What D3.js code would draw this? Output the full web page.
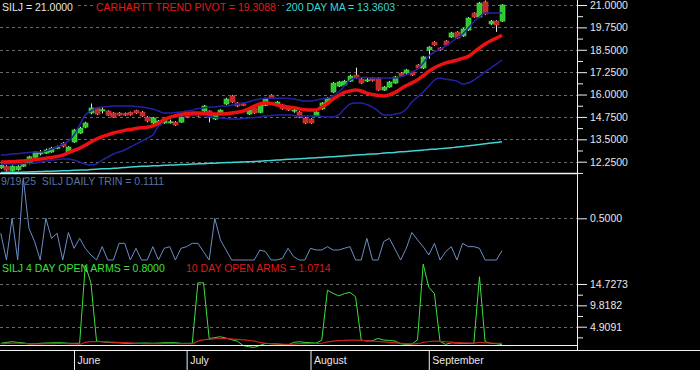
<!DOCTYPE html>
<html><head><meta charset="utf-8">
<script src="https://cdn.jsdelivr.net/npm/d3@7"></script>
<style>
html,body{margin:0;padding:0;background:#000;}
svg{display:block;}
text{font-family:"Liberation Sans",Arial,sans-serif;font-size:10.5px;white-space:pre;}
</style></head><body>
<svg id="chart" width="700" height="370"></svg>
<script>
// ---------------- DATA ----------------
const dates = [
"2025-05-13","2025-05-14","2025-05-15","2025-05-16","2025-05-19","2025-05-20","2025-05-21","2025-05-22","2025-05-23","2025-05-27","2025-05-28","2025-05-29","2025-05-30",
"2025-06-02","2025-06-03","2025-06-04","2025-06-05","2025-06-06","2025-06-09","2025-06-10","2025-06-11","2025-06-12","2025-06-13","2025-06-16","2025-06-17","2025-06-18","2025-06-20","2025-06-23","2025-06-24","2025-06-25","2025-06-26","2025-06-27","2025-06-30",
"2025-07-01","2025-07-02","2025-07-03","2025-07-07","2025-07-08","2025-07-09","2025-07-10","2025-07-11","2025-07-14","2025-07-15","2025-07-16","2025-07-17","2025-07-18","2025-07-21","2025-07-22","2025-07-23","2025-07-24","2025-07-25","2025-07-28","2025-07-29","2025-07-30","2025-07-31",
"2025-08-01","2025-08-04","2025-08-05","2025-08-06","2025-08-07","2025-08-08","2025-08-11","2025-08-12","2025-08-13","2025-08-14","2025-08-15","2025-08-18","2025-08-19","2025-08-20","2025-08-21","2025-08-22","2025-08-25","2025-08-26","2025-08-27","2025-08-28","2025-08-29",
"2025-09-02","2025-09-03","2025-09-04","2025-09-05","2025-09-08","2025-09-09","2025-09-10","2025-09-11","2025-09-12","2025-09-15","2025-09-16","2025-09-17","2025-09-18","2025-09-19"];

const openP = [11.90,11.97,11.75,11.80,12.00,12.15,12.50,12.72,12.73,12.79,
13.00,13.29,12.79,13.35,13.85,14.18,14.97,15.25,15.12,15.08,
14.97,14.97,14.95,15.00,15.10,15.02,14.74,14.41,14.30,14.41,
14.45,14.46,14.46,14.97,14.90,14.95,15.08,15.08,14.63,14.91,
15.47,15.92,15.53,15.48,14.91,15.25,15.00,15.40,15.97,15.42,
15.42,15.30,15.12,15.02,14.69,14.63,14.80,15.20,15.53,16.14,
16.47,16.53,16.75,17.09,16.86,16.80,16.92,16.92,16.25,16.42,
16.64,17.20,17.20,17.26,17.65,17.48,18.49,18.93,18.60,18.99,
19.21,19.49,19.27,19.60,20.55,20.33,21.17,19.94,20.10,20.10];
const closeP = [12.05,11.78,12.00,11.98,12.10,12.52,12.79,12.75,12.90,13.01,
13.07,13.12,13.07,14.02,14.13,14.41,15.25,14.91,15.15,14.85,
14.74,14.85,14.85,14.87,14.97,14.80,14.52,14.69,14.52,14.63,
14.48,14.30,14.74,14.74,14.85,14.80,15.36,14.74,14.85,15.13,
15.75,15.58,15.36,15.40,15.13,14.97,15.42,15.75,15.80,15.58,
15.20,15.13,15.14,14.74,14.41,14.41,15.02,15.53,15.80,16.64,
16.70,16.75,17.03,16.92,16.64,16.82,16.78,16.25,16.42,16.70,
16.98,17.03,17.37,17.09,17.48,18.10,18.65,18.77,18.50,18.77,
19.44,19.15,19.66,20.27,20.33,21.11,20.50,20.10,19.88,21.00];
const highP = [12.10,12.05,12.05,12.05,12.18,12.58,12.85,12.90,12.98,13.08,
13.15,13.35,13.12,14.08,14.20,14.48,15.50,15.30,15.30,15.12,
15.02,15.02,15.00,15.05,15.15,15.08,14.80,14.75,14.58,14.68,
14.60,14.52,14.80,15.02,14.95,15.00,15.42,15.12,14.90,15.18,
15.82,15.98,15.58,15.55,15.18,15.30,15.48,15.82,16.02,15.64,
15.48,15.35,15.30,15.08,14.75,14.68,15.08,15.58,15.86,16.70,
16.76,16.82,17.10,17.50,16.92,16.98,16.98,16.98,16.48,16.76,
17.04,17.26,17.43,17.32,17.70,18.16,18.70,18.98,18.65,19.04,
19.50,19.54,19.72,20.33,20.60,21.17,21.25,20.16,20.15,21.05];
const lowP = [11.85,11.70,11.70,11.75,11.95,12.10,12.45,12.60,12.68,12.75,
12.95,13.05,12.75,13.30,13.80,14.12,14.90,14.85,14.95,14.80,
14.70,14.80,14.80,14.82,14.92,14.75,14.45,14.30,14.25,14.36,
14.38,14.25,14.42,14.70,14.80,14.75,15.02,14.45,14.58,14.86,
15.42,15.52,15.30,15.35,14.86,14.92,14.95,15.35,15.75,15.36,
15.15,15.08,14.98,14.68,14.35,14.36,14.75,15.15,15.48,16.08,
16.42,16.48,16.70,16.88,16.58,16.70,16.72,16.20,16.20,16.38,
16.60,16.98,17.15,17.04,17.42,17.42,18.00,18.72,18.45,18.72,
19.16,19.10,19.22,19.55,20.28,20.28,20.45,19.89,19.50,20.05];

const pivot = [12.23,12.24,12.25,12.27,12.29,12.32,12.36,12.40,12.44,12.49,
12.54,12.62,12.75,12.88,13.00,13.17,13.35,13.52,13.65,13.75,
13.85,13.93,14.00,14.05,14.10,14.14,14.17,14.25,14.40,14.60,
14.73,14.82,14.89,14.94,14.97,14.97,14.96,14.94,14.92,14.91,
14.93,14.97,15.01,15.07,15.20,15.35,15.47,15.53,15.50,15.42,
15.35,15.31,15.27,15.20,15.15,15.13,15.14,15.30,15.50,15.75,
15.95,16.12,16.20,16.25,16.20,16.08,16.00,15.95,15.92,15.98,
16.12,16.31,16.50,16.65,16.82,17.05,17.30,17.50,17.65,17.77,
17.84,17.92,18.02,18.13,18.35,18.60,18.82,19.00,19.15,19.3088];
const upperBand = [12.62,12.64,12.68,12.70,12.73,12.76,12.79,12.79,12.84,12.96,
13.07,13.23,13.40,13.74,14.30,14.86,15.08,15.25,15.30,15.33,
15.36,15.36,15.36,15.36,15.33,15.30,15.25,15.19,15.08,14.97,
14.97,15.00,15.02,15.08,15.13,15.22,15.25,15.30,15.30,15.36,
15.36,15.41,15.47,15.53,15.58,15.69,15.75,15.80,15.80,15.80,
15.80,15.78,15.75,15.69,15.64,15.64,15.69,15.75,15.80,15.92,
16.14,16.47,16.81,16.92,16.95,16.95,16.92,16.92,16.92,16.92,
16.92,16.98,17.09,17.26,17.42,17.76,18.15,18.37,18.54,18.71,
18.93,19.16,19.38,19.72,20.05,20.33,20.55,20.55,20.55,20.55];
const lowerBand = [12.12,12.12,12.12,12.12,12.15,12.17,12.17,12.23,12.28,12.34,
12.37,12.40,12.40,12.34,12.23,12.12,12.06,12.12,12.34,12.51,
12.68,12.79,12.90,13.07,13.23,13.40,13.57,13.74,14.24,14.52,
14.69,14.74,14.80,14.86,14.86,14.86,14.83,14.77,14.72,14.69,
14.66,14.63,14.63,14.66,14.69,14.72,14.74,14.80,14.83,14.86,
14.86,14.86,14.83,14.80,14.80,14.80,14.80,14.77,14.74,14.74,
14.86,15.19,15.47,15.53,15.53,15.44,15.30,15.08,14.86,14.86,
14.91,14.97,15.19,15.58,15.86,16.14,16.47,16.81,16.92,16.86,
16.81,16.75,16.59,16.64,16.81,17.03,17.26,17.48,17.70,17.93];
const ma200 = [11.64,11.65,11.66,11.66,11.67,11.68,11.69,11.70,11.71,11.72,
11.73,11.74,11.75,11.77,11.78,11.79,11.81,11.83,11.85,11.86,
11.88,11.90,11.92,11.95,11.97,11.99,12.00,12.02,12.03,12.05,
12.06,12.07,12.09,12.10,12.12,12.13,12.14,12.16,12.17,12.19,
12.20,12.21,12.22,12.24,12.25,12.26,12.28,12.30,12.32,12.34,
12.36,12.38,12.40,12.41,12.43,12.45,12.47,12.49,12.51,12.53,
12.55,12.57,12.59,12.62,12.64,12.66,12.68,12.70,12.73,12.75,
12.77,12.80,12.82,12.85,12.87,12.90,12.93,12.95,12.98,13.00,
13.03,13.07,13.10,13.14,13.17,13.21,13.25,13.29,13.32,13.3603];

const trin = [0.32,0,0.5,0,0.98,0.38,0.22,0,0.5,0.26,
0.32,0,0.33,0.14,0.26,0.14,0.06,0,0.16,0,
0,0.2,0.2,0,0.14,0,0,0.16,0,0.14,
0.16,0,0.14,0.16,0.2,0.2,0.1,0,0.5,0.24,
0.12,0,0,0,0,0,0.12,0.1,0,0,
0.02,0.14,0.04,0,0,0.14,0.12,0.12,0.16,0.12,
0.12,0.14,0.16,0,0,0.26,0,0,0.22,0.26,
0.13,0,0.14,0.33,0.24,0.16,0.06,0.2,0,0.1,
0.16,0,0.2,0.16,0.16,0.14,0,0,0,0.1111];

const arms4 = [1.08,1.3,1.45,1.3,1.2,0.95,1.0,1.1,1.15,1.2,
1.22,1.2,1.1,1.08,1.1,19.1,15.0,1.6,1.45,1.3,
1.22,1.2,1.1,1.08,1.1,1.15,1.15,1.1,1.15,1.22,
1.22,1.22,1.08,1.08,1.1,15.0,15.0,2.2,2.4,2.6,
2.3,1.9,1.6,0.6,0.3,0.16,0.6,1.08,1.0,0.95,
0.8,0.7,1.3,1.45,1.3,1.22,1.15,1.8,13.3,12.6,
12.0,12.5,12.8,11.8,1.84,1.6,1.7,2.2,1.84,1.75,
1.6,1.0,0.85,0.9,1.9,19.3,14.0,12.5,1.5,0.85,
1.2,1.15,1.08,1.08,1.08,16.4,1.45,1.08,1.0,0.8];
const arms10 = [1.0,1.05,1.1,1.1,1.05,1.0,0.95,0.95,1.0,1.0,
1.05,1.05,1.0,0.95,0.9,1.3,1.5,1.5,1.45,1.4,
1.35,1.3,1.25,1.2,1.1,1.05,1.0,1.0,1.0,1.05,
1.05,1.05,1.0,1.0,1.0,1.6,1.9,2.0,2.1,2.2,
2.2,2.1,2.0,1.9,1.8,1.6,1.3,1.1,1.0,0.95,
0.9,0.85,0.9,1.0,1.0,1.05,1.05,1.1,1.4,1.6,
1.7,1.75,1.8,1.8,1.75,1.7,1.6,1.5,1.4,1.3,
1.2,1.1,1.0,0.95,1.0,1.3,1.5,1.6,1.55,1.45,
1.35,1.25,1.2,1.15,1.1,1.3,1.2,1.15,1.1,1.0714];

const priceTicks = [12.25,13.5,14.75,16,17.25,18.5,19.75,21];
const priceMinorTicks = [11.625,12.875,14.125,15.375,16.625,17.875,19.125,20.375];
const trinTicks = [0.5];
const armsTicks = [4.9091,9.8182,14.7273];
const armsMinorTicks = [2.4545,7.3636,12.2727];
const monthTicks = ["2025-06-02","2025-07-01","2025-08-01","2025-09-02"];
const monthLabels = ["June","July","August","September"];

// ---------------- CHART ----------------
const svg = d3.select("#chart");
const W = 700, H = 370, plotR = 577;
svg.append("rect").attr("width",W).attr("height",H).attr("fill","#000");

const fmt = d3.format(".4f");
const lastI = dates.length - 1;

const x = d3.scalePoint().domain(dates).range([0.8, 502]);
const yP = d3.scaleLinear().domain([12.25, 21]).range([161.7, 5]);
const yT = d3.scaleLinear().domain([0, 0.5]).range([260, 218.3]);
const yA = d3.scaleLinear().domain([4.9091, 14.7273]).range([326.7, 284]);

const defs = svg.append("defs");
defs.append("clipPath").attr("id","cTop").append("rect").attr("x",0).attr("y",0).attr("width",plotR).attr("height",173);
defs.append("clipPath").attr("id","cTrin").append("rect").attr("x",0).attr("y",174).attr("width",plotR).attr("height",88);
defs.append("clipPath").attr("id","cArms").append("rect").attr("x",0).attr("y",260).attr("width",plotR).attr("height",89);

const gridColor = "#6a6a6a";
function grid(g, scale, vals){
  g.selectAll("line.g").data(vals).join("line").attr("class","g")
   .attr("x1",0).attr("x2",plotR).attr("y1",d=>Math.round(scale(d))+0.5).attr("y2",d=>Math.round(scale(d))+0.5)
   .attr("stroke",gridColor).attr("stroke-width",1).attr("stroke-dasharray","3,3");
}
grid(svg.append("g"), yP, priceTicks);
grid(svg.append("g"), yT, trinTicks);
grid(svg.append("g"), yA, armsTicks);

// ---- top panel ----
const topG = svg.append("g").attr("clip-path","url(#cTop)");
const idx = d3.range(dates.length);
const lineP = (arr)=> d3.line().x(i=>x(dates[i])).y(i=>yP(arr[i])).curve(d3.curveMonotoneX)(idx);

// candles
const cg = topG.append("g");
cg.selectAll("line.w").data(idx).join("line").attr("class","w")
  .attr("x1",i=>Math.round(x(dates[i]))+0.5).attr("x2",i=>Math.round(x(dates[i]))+0.5)
  .attr("y1",i=>yP(highP[i])).attr("y2",i=>yP(lowP[i]))
  .attr("stroke","#e6e6e6").attr("stroke-width",1);
cg.selectAll("rect.b").data(idx).join("rect").attr("class","b")
  .attr("x",i=>Math.round(x(dates[i]))-2)
  .attr("width",5)
  .attr("y",i=>yP(Math.max(openP[i],closeP[i])))
  .attr("height",i=>Math.max(1.2, Math.abs(yP(openP[i])-yP(closeP[i]))))
  .attr("fill",i=> closeP[i]>=openP[i] ? "#2fc82f" : "#c82828")
  .attr("stroke",i=> closeP[i]>=openP[i] ? "#4fe04f" : "#d84040")
  .attr("stroke-width",0.6);

topG.append("path").attr("d",lineP(ma200)).attr("fill","none").attr("stroke","#3fd6d6").attr("stroke-width",1.5);
topG.append("path").attr("d",lineP(lowerBand)).attr("fill","none").attr("stroke","#2222a8").attr("stroke-width",1.5);
topG.append("path").attr("d",lineP(upperBand)).attr("fill","none").attr("stroke","#2222a8").attr("stroke-width",1.5);
topG.append("path").attr("d",lineP(pivot)).attr("fill","none").attr("stroke","#ee1111").attr("stroke-width",3.5);

// ---- TRIN panel ----
const tg = svg.append("g").attr("clip-path","url(#cTrin)");
tg.append("path").attr("d", d3.line().x(i=>x(dates[i])).y(i=>yT(trin[i]))(idx))
  .attr("fill","none").attr("stroke","#6a8ec8").attr("stroke-width",1);

// ---- ARMS panel ----
const ag = svg.append("g").attr("clip-path","url(#cArms)");
ag.append("path").attr("d", d3.line().x(i=>x(dates[i])).y(i=>yA(arms4[i]))(idx))
  .attr("fill","none").attr("stroke","#3ee03e").attr("stroke-width",1);
ag.append("path").attr("d", d3.line().x(i=>x(dates[i])).y(i=>yA(arms10[i])).curve(d3.curveMonotoneX)(idx))
  .attr("fill","none").attr("stroke","#cc2020").attr("stroke-width",1.2);

// ---- frame lines ----
const white = "#f0f0f0";
svg.append("line").attr("x1",0).attr("x2",plotR).attr("y1",173.5).attr("y2",173.5).attr("stroke",white).attr("stroke-width",1.5);
svg.append("line").attr("x1",0).attr("x2",plotR).attr("y1",345.5).attr("y2",345.5).attr("stroke",white).attr("stroke-width",1);
svg.append("line").attr("x1",0).attr("x2",W).attr("y1",350.5).attr("y2",350.5).attr("stroke",white).attr("stroke-width",1);
svg.append("line").attr("x1",plotR+0.5).attr("x2",plotR+0.5).attr("y1",0).attr("y2",350.5).attr("stroke",white).attr("stroke-width",1);

// ---- right axes ----
function rAxis(scale, major, minor){
  const g = svg.append("g").attr("transform",`translate(${plotR},0)`);
  g.call(d3.axisRight(scale).tickValues(major).tickSize(10).tickPadding(3).tickFormat(fmt));
  if(minor){
    const g2 = svg.append("g").attr("transform",`translate(${plotR},0)`);
    g2.call(d3.axisRight(scale).tickValues(minor).tickSize(6).tickFormat(""));
    g2.select(".domain").remove();
    g2.selectAll("line").attr("stroke",white);
  }
  g.select(".domain").remove();
  g.selectAll("line").attr("stroke",white);
  g.selectAll("text").attr("fill","#e8e8e8").style("font-size","10.5px").style("font-family",'"Liberation Sans",Arial,sans-serif');
}
rAxis(yP, priceTicks, priceMinorTicks);
rAxis(yT, trinTicks, null);
rAxis(yA, armsTicks, armsMinorTicks);

// ---- bottom month axis ----
const xg = svg.append("g").attr("transform","translate(0,350)");
xg.call(d3.axisBottom(x).tickValues(monthTicks).tickSize(20).tickFormat((d,i)=>monthLabels[i]));
xg.select(".domain").remove();
xg.selectAll("line").attr("stroke",white);
xg.selectAll("text").attr("x",3).attr("y",14).attr("dy",0).attr("text-anchor","start")
  .attr("fill","#e8e8e8").style("font-size","10.5px").style("font-family",'"Liberation Sans",Arial,sans-serif');

// ---- legends ----
function legend(txt, xx, yy, color, bg){
  const g = svg.append("g");
  const t = g.append("text").attr("x",xx).attr("y",yy).attr("fill",color).text(txt);
  if(bg){
    const b = t.node().getBBox();
    g.insert("rect","text").attr("x",b.x-2).attr("y",b.y).attr("width",b.width+4).attr("height",b.height).attr("fill","#000");
  }
}
legend(`SILJ = ${fmt(closeP[lastI])}`, 2, 10.5, "#e6e6e6", true);
legend(`CARHARTT TREND PIVOT = ${fmt(pivot[lastI])}`, 96, 10.5, "#e01c1c", true);
legend(`200 DAY MA = ${fmt(ma200[lastI])}`, 286, 10.5, "#3fd6d6", true);
const ld = dates[lastI].split("-");
legend(`${+ld[1]}/${+ld[2]}/${ld[0].slice(2)}  SILJ DAILY TRIN = ${fmt(trin[lastI])}`, 1, 184.5, "#5476a6", false);
legend(`SILJ 4 DAY OPEN ARMS = ${fmt(arms4[lastI])}`, 2, 272, "#3ee03e", false);
legend(`10 DAY OPEN ARMS = ${fmt(arms10[lastI])}`, 186, 272, "#dd1c1c", false);
</script>
</body></html>
